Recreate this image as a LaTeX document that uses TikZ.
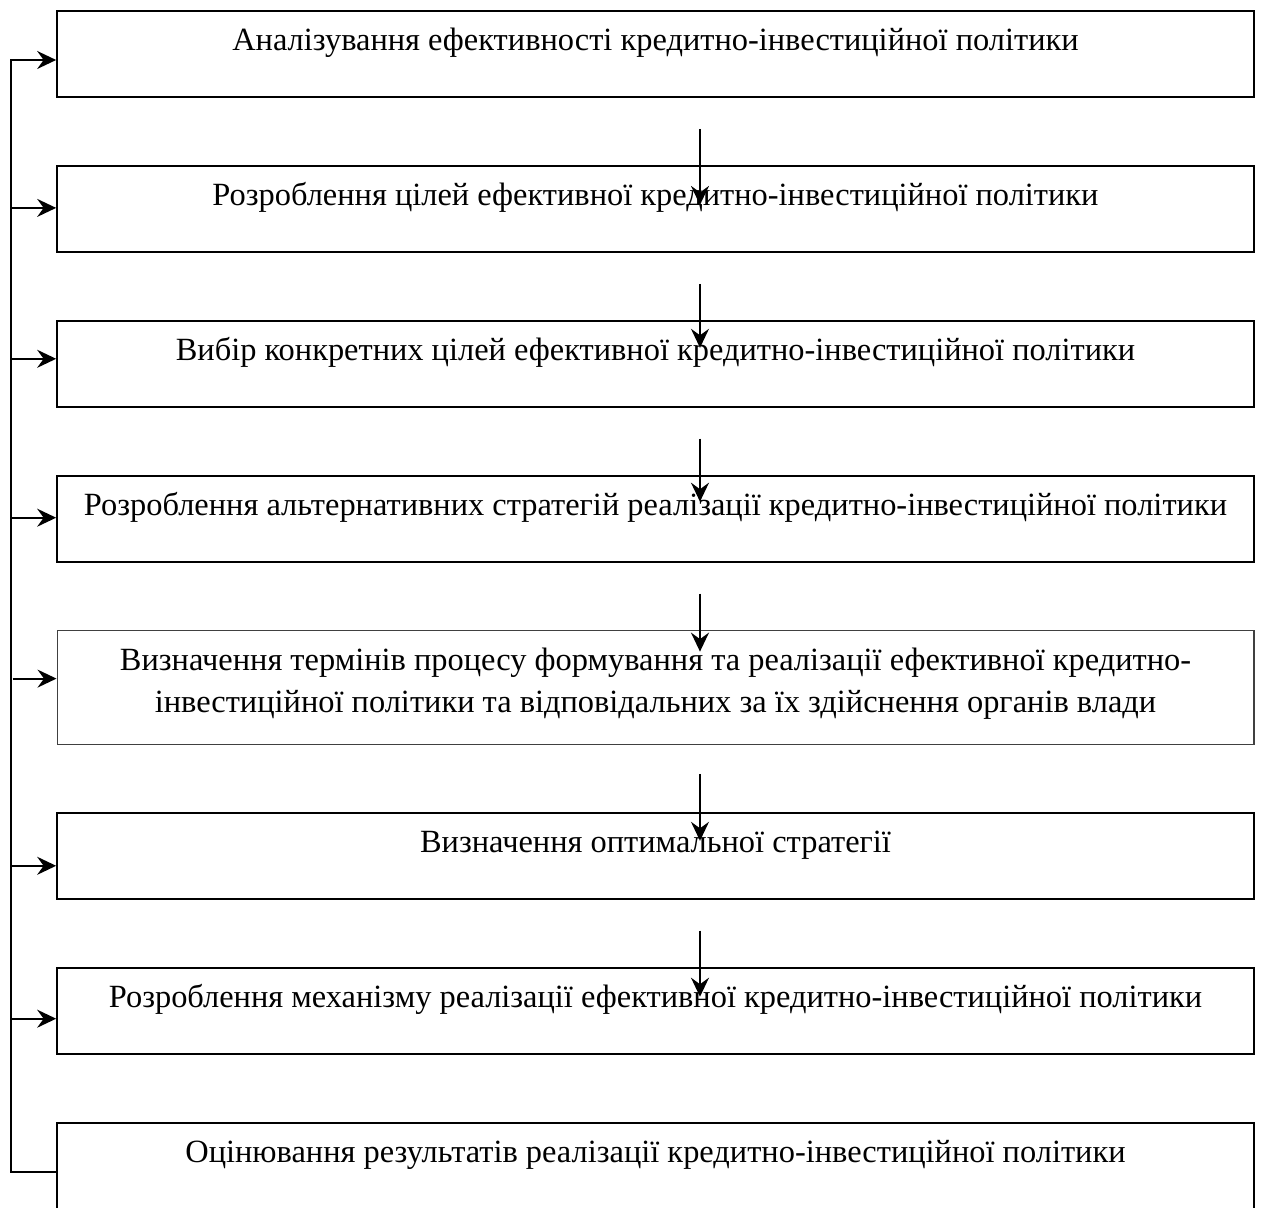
\documentclass[tikz,border=0pt]{standalone}
\usepackage{fontspec}
\setmainfont{Liberation Serif}
\usetikzlibrary{arrows.meta,positioning}
\tikzset{stageframe/.style={
    % The shape:
    rectangle,
    % The size:
    minimum width=23.94cm,
    inner xsep=0pt, inner ysep=0pt,
    text height=0.8cm, text depth=0.92cm,
    % The border:
    line width=1.1pt,
    draw=black,
    % Font
    font=\fontsize{18.45pt}{23.8pt}\selectfont,
    align=center
    },
    thinframe/.style={
    stageframe,
    line width=0.7pt,
    draw=black!75,
    text height=1.64cm,
    text depth=0.64cm,
    },
    flow/.style={
    line width=1.1pt,
    -{Stealth[length=3.8mm,width=3.6mm,inset=1.3mm]},
    },
}

\begin{document}
\begin{tikzpicture}[x=0.02cm, y=-0.02cm, node distance = 1.34cm and 5mm]
    \useasboundingbox (0,0) rectangle (1261,1207);

    \node (analysis)   [stageframe,anchor=north] at (655.5,10) {Аналізування ефективності кредитно-інвестиційної політики};
    \node (goals)      [stageframe,below=of analysis]   {Розроблення цілей ефективної кредитно-інвестиційної політики};
    \node (choice)     [stageframe,below=of goals]      {Вибір конкретних цілей ефективної кредитно-інвестиційної політики};
    \node (strategies) [stageframe,below=of choice]     {Розроблення альтернативних стратегій реалізації кредитно-інвестиційної політики};
    \node (terms)      [thinframe,below=of strategies]  {Визначення термінів процесу формування та реалізації ефективної кредитно-\\інвестиційної політики та відповідальних за їх здійснення органів влади};
    \node (optimal)    [stageframe,below=of terms]      {Визначення оптимальної стратегії};
    \node (mechanism)  [stageframe,below=of optimal]    {Розроблення механізму реалізації ефективної кредитно-інвестиційної політики};
    \node (evaluation) [stageframe,below=of mechanism]  {Оцінювання результатів реалізації кредитно-інвестиційної політики};

    % arrows down the middle
    \draw[flow] ([xshift=0.89cm,yshift=-0.62cm]analysis.south)   -- ([xshift=0.89cm,yshift=-0.8cm]goals.north);
    \draw[flow] ([xshift=0.89cm,yshift=-0.62cm]goals.south)      -- ([xshift=0.89cm,yshift=-0.56cm]choice.north);
    \draw[flow] ([xshift=0.89cm,yshift=-0.62cm]choice.south)     -- ([xshift=0.89cm,yshift=-0.54cm]strategies.north);
    \draw[flow] ([xshift=0.89cm,yshift=-0.62cm]strategies.south) -- ([xshift=0.89cm,yshift=-0.44cm]terms.north);
    \draw[flow] ([xshift=0.89cm,yshift=-0.58cm]terms.south)      -- ([xshift=0.89cm,yshift=-0.58cm]optimal.north);
    \draw[flow] ([xshift=0.89cm,yshift=-0.62cm]optimal.south)    -- ([xshift=0.89cm,yshift=-0.6cm]mechanism.north);

    % feedback line on the left
    \draw[flow] ([yshift=-1.0cm]evaluation.north west) -- ++(-0.9cm,0) |- ([yshift=-1.0cm]analysis.north west);
    \draw[flow] ([xshift=-0.88cm,yshift=-0.86cm]goals.north west)      -- ([yshift=-0.86cm]goals.north west);
    \draw[flow] ([xshift=-0.88cm,yshift=-0.78cm]choice.north west)     -- ([yshift=-0.78cm]choice.north west);
    \draw[flow] ([xshift=-0.88cm,yshift=-0.86cm]strategies.north west) -- ([yshift=-0.86cm]strategies.north west);
    \draw[flow] ([xshift=-0.88cm,yshift=-0.98cm]terms.north west)      -- ([yshift=-0.98cm]terms.north west);
    \draw[flow] ([xshift=-0.88cm,yshift=-1.08cm]optimal.north west)    -- ([yshift=-1.08cm]optimal.north west);
    \draw[flow] ([xshift=-0.88cm,yshift=-1.04cm]mechanism.north west)  -- ([yshift=-1.04cm]mechanism.north west);
\end{tikzpicture}
\end{document}
